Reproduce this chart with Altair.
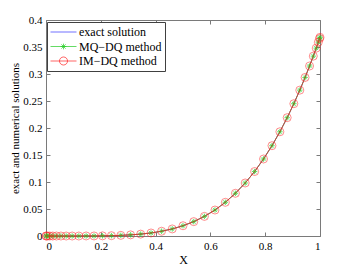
import altair as alt
import pandas as pd

# Collocation points (clustered near 0 and 1)
x_vals = [0.0, 0.0015, 0.0062, 0.0138, 0.0245, 0.0381, 0.0545, 0.0737, 0.0955, 0.1198,
          0.1465, 0.1753, 0.2061, 0.2388, 0.2730, 0.3087, 0.3455, 0.3833, 0.4218, 0.4608,
          0.5000, 0.5392, 0.5782, 0.6167, 0.6545, 0.6913, 0.7270, 0.7613, 0.7939, 0.8247,
          0.8536, 0.8802, 0.9045, 0.9263, 0.9455, 0.9619, 0.9755, 0.9862, 0.9938, 0.9985, 1.0]

exact_vals = [0.0, 0.0, 0.0, 0.0, 0.0, 0.0, 0.0, 0.0, 0.0, 0.0,
              0.0001, 0.0001, 0.0003, 0.0006, 0.0012, 0.0021, 0.0035, 0.0056, 0.0088, 0.0131,
              0.0190, 0.0266, 0.0363, 0.0481, 0.0624, 0.0791, 0.0982, 0.1194, 0.1426, 0.1672,
              0.1930, 0.2191, 0.2450, 0.2701, 0.2936, 0.3148, 0.3331, 0.3479, 0.3589, 0.3656, 0.3679]

mq_vals = [0.0, 0.0, 0.0, 0.0, 0.0, 0.0, 0.0, 0.0, 0.0, 0.0,
           0.0001, 0.0001, 0.0003, 0.0006, 0.0012, 0.0021, 0.0035, 0.0056, 0.0088, 0.0131,
           0.0190, 0.0266, 0.0363, 0.0481, 0.0624, 0.0791, 0.0982, 0.1194, 0.1426, 0.1672,
           0.1930, 0.2191, 0.2450, 0.2701, 0.2936, 0.3148, 0.3331, 0.3479, 0.3589, 0.3656, 0.3679]

im_vals = [0.0, 0.0, 0.0, 0.0, 0.0, 0.0, 0.0, 0.0, 0.0, 0.0,
           0.0001, 0.0001, 0.0003, 0.0006, 0.0012, 0.0021, 0.0035, 0.0056, 0.0088, 0.0131,
           0.0190, 0.0266, 0.0363, 0.0481, 0.0624, 0.0791, 0.0982, 0.1194, 0.1426, 0.1672,
           0.1930, 0.2191, 0.2450, 0.2701, 0.2936, 0.3148, 0.3331, 0.3479, 0.3589, 0.3656, 0.3679]

series_names = ["exact solution", "MQ\u2212DQ method", "IM\u2212DQ method"]
series_colors = ["#3333ff", "#22cc22", "#ff2222"]

x_ticks = [0, 0.2, 0.4, 0.6, 0.8, 1]
y_ticks = [0, 0.05, 0.1, 0.15, 0.2, 0.25, 0.3, 0.35, 0.4]

W, H = 274, 216
FONT = "Liberation Serif"
AX = "#7a7a7a"

STAR = "M0,-1V1M-1,0H1M-0.7,-0.7L0.7,0.7M-0.7,0.7L0.7,-0.7"
legend_shapes = [
    "M-1,0H1",
    "M-1,0H1M0,-0.22V0.22M-0.22,0H0.22M-0.16,-0.16L0.16,0.16M-0.16,0.16L0.16,-0.16",
    "M-1,0H1M0.31,0A0.31,0.31 0 1,0 -0.31,0A0.31,0.31 0 1,0 0.31,0",
]

df_exact = pd.DataFrame({"x": x_vals, "y": exact_vals})
df_mq = pd.DataFrame({"x": x_vals, "y": mq_vals})
df_im = pd.DataFrame({"x": x_vals, "y": im_vals})
df_all = pd.concat([
    df_exact.assign(series=series_names[0]),
    df_mq.assign(series=series_names[1]),
    df_im.assign(series=series_names[2]),
])

xs = alt.Scale(domain=[0, 1], nice=False, zero=False)
ys = alt.Scale(domain=[0, 0.4], nice=False, zero=False)


def tick_axis(orient, offset, values):
    return alt.Axis(orient=orient, offset=offset, values=values, labels=False,
                    domain=False, grid=False, tickSize=4, tickColor=AX,
                    tickWidth=1, title=None)


ax_main_x = alt.Axis(values=x_ticks, format=".1~f", tickSize=0, domain=False, grid=False,
                     labelFont=FONT, labelFontSize=11, labelColor="black", labelPadding=4,
                     title="X", titleFont=FONT, titleFontSize=12, titleFontWeight="normal",
                     titleColor="black", titlePadding=3)
ax_main_y = alt.Axis(values=y_ticks, format=".2~f", tickSize=0, domain=False, grid=False,
                     labelFont=FONT, labelFontSize=11, labelColor="black", labelPadding=4,
                     title="exact and numerical solutions", titleFont=FONT, titleFontSize=11,
                     titleFontWeight="normal", titleColor="black", titlePadding=2)

blue_line = alt.Chart(df_exact).mark_line(color=series_colors[0], strokeWidth=0.7).encode(
    x=alt.X("x:Q", scale=xs, axis=ax_main_x),
    y=alt.Y("y:Q", scale=ys, axis=ax_main_y),
)
green_line = alt.Chart(df_mq).mark_line(color=series_colors[1], strokeWidth=0.7).encode(
    x=alt.X("x:Q", scale=xs, axis=tick_axis("top", -H, x_ticks)),
    y=alt.Y("y:Q", scale=ys, axis=tick_axis("right", -W, y_ticks)),
)
green_pts = alt.Chart(df_mq).mark_point(shape=STAR, size=30, color=series_colors[1],
                                        strokeWidth=0.7, opacity=1, filled=False).encode(
    x=alt.X("x:Q", scale=xs, axis=None),
    y=alt.Y("y:Q", scale=ys, axis=None),
)
red_line = alt.Chart(df_im).mark_line(color=series_colors[2], strokeWidth=0.7).encode(
    x=alt.X("x:Q", scale=xs, axis=tick_axis("bottom", -H, x_ticks)),
    y=alt.Y("y:Q", scale=ys, axis=tick_axis("left", -W, y_ticks)),
)
red_pts = alt.Chart(df_im).mark_point(shape="circle", size=64, color=series_colors[2],
                                      strokeWidth=0.6, opacity=0.85, filled=False).encode(
    x=alt.X("x:Q", scale=xs, axis=None),
    y=alt.Y("y:Q", scale=ys, axis=None),
)

leg = alt.Legend(title=None, orient="none", legendX=1, legendY=2, fillColor="white",
                 strokeColor="#404040", padding=3, symbolSize=676, clipHeight=14,
                 rowPadding=0.5, labelFont=FONT, labelFontSize=12, labelColor="black",
                 labelFontWeight="normal", labelOffset=2, symbolStrokeWidth=0.7,
                 cornerRadius=0)

legend_layer = alt.Chart(df_all).transform_filter("datum.x > 2").mark_point(
    opacity=1, filled=False, strokeWidth=0.7).encode(
    x=alt.X("x:Q", scale=xs, axis=None),
    y=alt.Y("y:Q", scale=ys, axis=None),
    color=alt.Color("series:N", scale=alt.Scale(domain=series_names, range=series_colors),
                    legend=leg),
    shape=alt.Shape("series:N", scale=alt.Scale(domain=series_names, range=legend_shapes),
                    legend=leg),
)

chart = alt.layer(blue_line, green_line, green_pts, red_line, red_pts, legend_layer).resolve_axis(
    x="independent", y="independent"
).properties(
    width=W, height=H,
    autosize=alt.AutoSizeParams(type="none"),
    padding={"left": 38, "top": 12, "right": 25, "bottom": 30},
    background="white",
).configure_view(stroke=AX, strokeWidth=1).configure_legend(
    labelFont=FONT, labelFontWeight="normal", labelFontSize=12
).configure_axis(labelFont=FONT, titleFont=FONT)

chart.save("out.html", embed_options={"renderer": "svg", "actions": False})
